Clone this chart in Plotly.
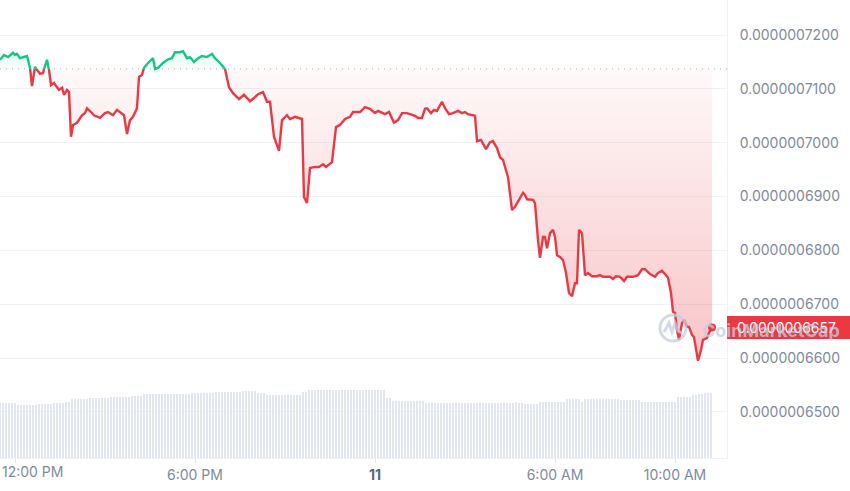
import numpy as np
import pandas as pd
import plotly.graph_objects as go

# ---------------- data ----------------
start = pd.Timestamp("2024-06-10 11:30")

# minutes after start, price in USD
price_minutes = [
    0, 8, 16, 26, 30, 34, 40, 46, 54, 60, 64, 70, 74, 80, 86, 90, 94, 98, 102, 108,
    114, 118, 124, 128, 134, 138, 142, 146, 154, 164, 170, 174, 182, 188, 200, 210, 216, 226, 234, 242,
    248, 254, 260, 266, 274, 278, 284, 288, 296, 306, 310, 316, 326, 336, 344, 350, 360, 366, 374, 380,
    388, 396, 404, 414, 424, 430, 440, 450, 458, 466, 478, 488, 500, 508, 516, 526, 534, 540, 548, 558,
    564, 574, 580, 590, 604, 608, 614, 620, 630, 638, 646, 652, 664, 672, 680, 690, 700, 706, 720, 730,
    740, 750, 756, 770, 778, 788, 796, 804, 814, 830, 836, 844, 850, 854, 862, 868, 874, 884, 890, 898,
    906, 916, 924, 930, 936, 950, 954, 962, 972, 980, 986, 994, 1000, 1006, 1016, 1024, 1030, 1038, 1046, 1050,
    1054, 1066, 1070, 1076, 1080, 1086, 1090, 1094, 1100, 1106, 1110, 1114, 1120, 1126, 1132, 1138, 1144, 1150, 1154, 1158,
    1164, 1170, 1176, 1184, 1194, 1200, 1206, 1220, 1226, 1232, 1240, 1248, 1254, 1266, 1276, 1284, 1290, 1300, 1310, 1316,
    1324, 1330, 1336, 1342, 1346, 1350, 1354, 1358, 1364, 1368, 1374, 1378, 1384, 1388, 1394, 1396, 1402, 1406, 1414, 1418,
    1424,
]
price_usd = [
    7.154e-7, 7.163e-7, 7.159e-7, 7.167e-7, 7.163e-7, 7.165e-7, 7.157e-7, 7.159e-7, 7.161e-7, 7.139e-7,
    7.105e-7, 7.141e-7, 7.135e-7, 7.128e-7, 7.129e-7, 7.144e-7, 7.154e-7, 7.135e-7, 7.107e-7, 7.111e-7,
    7.103e-7, 7.098e-7, 7.102e-7, 7.089e-7, 7.098e-7, 7.094e-7, 7.011e-7, 7.033e-7, 7.037e-7, 7.051e-7,
    7.055e-7, 7.064e-7, 7.057e-7, 7.051e-7, 7.046e-7, 7.055e-7, 7.057e-7, 7.051e-7, 7.061e-7, 7.055e-7,
    7.051e-7, 7.016e-7, 7.042e-7, 7.048e-7, 7.064e-7, 7.122e-7, 7.126e-7, 7.139e-7, 7.148e-7, 7.157e-7,
    7.137e-7, 7.139e-7, 7.148e-7, 7.155e-7, 7.157e-7, 7.168e-7, 7.168e-7, 7.170e-7, 7.157e-7, 7.159e-7,
    7.150e-7, 7.157e-7, 7.161e-7, 7.159e-7, 7.165e-7, 7.157e-7, 7.148e-7, 7.137e-7, 7.103e-7, 7.092e-7,
    7.081e-7, 7.089e-7, 7.077e-7, 7.083e-7, 7.090e-7, 7.094e-7, 7.076e-7, 7.076e-7, 7.011e-7, 6.985e-7,
    7.042e-7, 7.051e-7, 7.044e-7, 7.048e-7, 7.044e-7, 6.899e-7, 6.888e-7, 6.953e-7, 6.955e-7, 6.955e-7,
    6.960e-7, 6.955e-7, 6.964e-7, 7.029e-7, 7.033e-7, 7.044e-7, 7.048e-7, 7.057e-7, 7.057e-7, 7.066e-7,
    7.063e-7, 7.055e-7, 7.059e-7, 7.053e-7, 7.057e-7, 7.037e-7, 7.042e-7, 7.055e-7, 7.055e-7, 7.050e-7,
    7.046e-7, 7.046e-7, 7.063e-7, 7.064e-7, 7.055e-7, 7.061e-7, 7.059e-7, 7.076e-7, 7.064e-7, 7.053e-7,
    7.055e-7, 7.059e-7, 7.055e-7, 7.057e-7, 7.053e-7, 7.050e-7, 7.003e-7, 7.005e-7, 6.988e-7, 7.001e-7,
    7.003e-7, 6.990e-7, 6.973e-7, 6.968e-7, 6.936e-7, 6.875e-7, 6.881e-7, 6.894e-7, 6.907e-7, 6.903e-7,
    6.895e-7, 6.894e-7, 6.888e-7, 6.819e-7, 6.786e-7, 6.825e-7, 6.825e-7, 6.804e-7, 6.832e-7, 6.838e-7,
    6.825e-7, 6.791e-7, 6.788e-7, 6.782e-7, 6.758e-7, 6.721e-7, 6.715e-7, 6.739e-7, 6.739e-7, 6.838e-7,
    6.832e-7, 6.754e-7, 6.758e-7, 6.752e-7, 6.752e-7, 6.754e-7, 6.751e-7, 6.751e-7, 6.747e-7, 6.752e-7,
    6.751e-7, 6.743e-7, 6.751e-7, 6.751e-7, 6.754e-7, 6.765e-7, 6.765e-7, 6.756e-7, 6.751e-7, 6.758e-7,
    6.762e-7, 6.756e-7, 6.749e-7, 6.721e-7, 6.686e-7, 6.684e-7, 6.652e-7, 6.634e-7, 6.665e-7, 6.671e-7,
    6.658e-7, 6.658e-7, 6.643e-7, 6.639e-7, 6.609e-7, 6.595e-7, 6.615e-7, 6.634e-7, 6.637e-7, 6.647e-7,
    6.657e-7,
]

# 24h volume (arbitrary millions), one bar every 6 minutes
volume_step_min = 6
volume_musd = [
    5.5, 5.5, 5.5, 5.5, 5.5, 5.5,
    5.3, 5.3, 5.3, 5.3, 5.3, 5.3, 5.3,
    5.4, 5.4, 5.4, 5.45, 5.45, 5.5, 5.5, 5.55, 5.55, 5.6, 5.6,
    5.9, 5.9, 5.9, 5.95, 5.95, 5.95, 6.0, 6.0, 6.0, 6.0, 6.05, 6.05,
    6.05, 6.1, 6.1, 6.1, 6.1, 6.15, 6.15, 6.15, 6.2, 6.2, 6.2, 6.2,
    6.4, 6.4, 6.4, 6.4, 6.4, 6.4, 6.4, 6.4,
    6.45, 6.45, 6.45, 6.45, 6.45, 6.45, 6.45, 6.45,
    6.5, 6.5, 6.5, 6.5, 6.5, 6.5, 6.5, 6.5,
    6.6, 6.6, 6.6, 6.6, 6.6, 6.6, 6.6, 6.6, 6.6,
    6.7, 6.7, 6.7, 6.7, 6.7,
    6.5, 6.5, 6.5,
    6.3, 6.3, 6.3, 6.3, 6.3, 6.3, 6.3, 6.3, 6.3, 6.3, 6.3, 6.3,
    6.6, 6.6,
    6.8, 6.8, 6.8, 6.8, 6.8, 6.8, 6.8, 6.8, 6.8, 6.8, 6.8, 6.8, 6.8,
    6.8, 6.8, 6.8, 6.8, 6.8, 6.8, 6.8, 6.8, 6.8, 6.8, 6.8, 6.8, 6.8,
    6.0, 6.0,
    5.75, 5.75, 5.75, 5.75, 5.75, 5.75, 5.75, 5.75, 5.75, 5.75, 5.75,
    5.5, 5.5, 5.5, 5.5, 5.5, 5.5, 5.5, 5.5, 5.5, 5.5, 5.5,
    5.5, 5.5, 5.5, 5.5, 5.5, 5.5, 5.5, 5.5, 5.55, 5.55, 5.5,
    5.5, 5.5, 5.5, 5.5, 5.5, 5.5, 5.55, 5.55, 5.6, 5.55, 5.5,
    5.4, 5.4, 5.4, 5.4, 5.4,
    5.6, 5.6, 5.6, 5.6, 5.6, 5.6, 5.6, 5.6, 5.6,
    5.9, 5.9, 5.9, 5.9, 5.9,
    5.6,
    5.9, 5.9, 5.9, 5.9, 5.9, 5.9, 5.9, 5.9, 5.9, 5.9, 5.9, 5.9,
    5.8, 5.8, 5.8, 5.8, 5.8, 5.8, 5.8,
    5.6, 5.6, 5.6, 5.6, 5.6, 5.6, 5.6, 5.6, 5.6, 5.6, 5.6, 5.6,
    6.1, 6.1, 6.1, 6.1, 6.1,
    6.3, 6.35, 6.4, 6.45, 6.5, 6.5, 6.55,
]

open_price = 7.137e-7            # dotted reference line
y_tick_vals = [6.5e-7, 6.6e-7, 6.7e-7, 6.8e-7, 6.9e-7, 7.0e-7, 7.1e-7, 7.2e-7]
x_tick_minutes = [30, 390, 750, 1110, 1350]
x_tick_text = ["", "6:00 PM", '<span style="color:#58667e"><b>11</b></span>', "6:00 AM", "10:00 AM"]
first_tick_label = "12:00 PM"
x_span_minutes = 1454
y_range = [6.4145e-7, 7.265e-7]

GREEN = "#16c784"
RED = "#ea3943"
FONT = "Inter"
TICK_COLOR = "#808a9d"

# ---------------- split at the open line ----------------
t = np.array(price_minutes, dtype=float)
p = np.array(price_usd, dtype=float)
xs, ys = [t[0]], [p[0]]
for i in range(1, len(t)):
    a, b = p[i - 1] - open_price, p[i] - open_price
    if a * b < 0:
        f = a / (a - b)
        xs.append(t[i - 1] + f * (t[i] - t[i - 1]))
        ys.append(open_price)
    xs.append(t[i])
    ys.append(p[i])
xs = np.array(xs)
ys = np.array(ys)
times = start + pd.to_timedelta(xs, unit="min")

red_line = [v if v <= open_price + 1e-15 else None for v in ys]
green_line = [v if v >= open_price - 1e-15 else None for v in ys]
base_arr = np.full(len(ys), open_price)

vol_times = start + pd.to_timedelta(np.arange(len(volume_musd)) * volume_step_min, unit="min")

fig = go.Figure()

# volume bars
fig.add_trace(go.Bar(
    x=vol_times, y=volume_musd, yaxis="y2",
    marker=dict(color="#e1e6ef", line=dict(width=0)),
    width=4 * 60 * 1000, hoverinfo="skip",
))

# red fill
fig.add_trace(go.Scatter(x=times, y=base_arr, mode="lines", line=dict(width=0), hoverinfo="skip"))
fig.add_trace(go.Scatter(
    x=times, y=np.minimum(ys, open_price), mode="lines", line=dict(width=0),
    fill="tonexty", hoverinfo="skip",
    fillgradient=dict(type="vertical", start=float(p.min()), stop=open_price,
                      colorscale=[[0, "rgba(234,57,67,0.30)"], [1, "rgba(234,57,67,0.03)"]]),
))
# green fill
fig.add_trace(go.Scatter(x=times, y=base_arr, mode="lines", line=dict(width=0), hoverinfo="skip"))
fig.add_trace(go.Scatter(
    x=times, y=np.maximum(ys, open_price), mode="lines", line=dict(width=0),
    fill="tonexty", hoverinfo="skip",
    fillgradient=dict(type="vertical", start=open_price, stop=float(p.max()),
                      colorscale=[[0, "rgba(22,199,132,0.02)"], [1, "rgba(22,199,132,0.12)"]]),
))

# lines
fig.add_trace(go.Scatter(x=times, y=red_line, mode="lines", line=dict(color=RED, width=2.4), hoverinfo="skip"))
fig.add_trace(go.Scatter(x=times, y=green_line, mode="lines", line=dict(color=GREEN, width=2.4), hoverinfo="skip"))

# last point marker
fig.add_trace(go.Scatter(x=[times[-1]], y=[p[-1]], mode="markers",
                         marker=dict(color=RED, size=8), hoverinfo="skip"))

# dotted open line
fig.add_shape(type="line", xref="paper", x0=0, x1=1, yref="y", y0=open_price, y1=open_price,
              line=dict(color="#a6b0c3", width=1, dash="1px,5px"), layer="below")

# price label box on right axis
px_per_unit = 458 / (y_range[1] - y_range[0])
half_h = 11.5 / px_per_unit
fig.add_shape(type="rect", xref="paper", x0=1, x1=1.25, yref="y",
              y0=p[-1] - half_h, y1=p[-1] + half_h,
              fillcolor=RED, line=dict(width=0), layer="above")
fig.add_annotation(xref="paper", x=1, xanchor="left", xshift=8, yref="y", y=p[-1], yanchor="middle",
                   text=f"{p[-1]:.10f}", showarrow=False,
                   font=dict(family=FONT, size=14, color="white"))

# watermark logo
cx, cy = 673 / 727, 1 - 328 / 458
rx, ry = 13 / 727, 13 / 458
wm_color = "rgba(196,205,222,0.75)"
fig.add_shape(type="circle", xref="paper", yref="paper",
              x0=cx - rx, x1=cx + rx, y0=cy - ry, y1=cy + ry,
              line=dict(color=wm_color, width=3))
pts = [(-9, 4), (-4, -5), (-1, 4), (2, -5), (5, 3), (9, 5)]
path = "M " + " L ".join(f"{cx + dx / 727:.5f},{cy - dy / 458:.5f}" for dx, dy in pts)
fig.add_shape(type="path", xref="paper", yref="paper", path=path,
              line=dict(color=wm_color, width=3))
fig.add_annotation(xref="paper", x=700 / 727, xanchor="left", yref="paper", y=1 - 330 / 458,
                   yanchor="middle", text="CoinMarketCap", showarrow=False,
                   font=dict(family=FONT, size=18, color=wm_color, weight=700))

# first x label (kept inside chart)
fig.add_annotation(xref="paper", x=0, xanchor="left", yref="paper", y=0, yshift=-13, yanchor="middle",
                   text=first_tick_label, showarrow=False,
                   font=dict(family=FONT, size=14, color=TICK_COLOR))

fig.update_layout(
    width=850, height=491,
    margin=dict(l=0, r=123, t=0, b=33),
    paper_bgcolor="white", plot_bgcolor="white",
    showlegend=False, bargap=0,
    xaxis=dict(
        type="date",
        range=[start, start + pd.Timedelta(minutes=x_span_minutes)],
        tickvals=[start + pd.Timedelta(minutes=m) for m in x_tick_minutes],
        ticktext=x_tick_text,
        showgrid=False, zeroline=False,
        ticks="outside", ticklen=4, tickcolor="#e3e7ee",
        showline=True, linecolor="#eff2f5", linewidth=1,
        tickfont=dict(family=FONT, size=14, color=TICK_COLOR),
        fixedrange=True,
    ),
    yaxis=dict(
        side="right", range=y_range,
        tickvals=y_tick_vals, tickformat=".10f",
        showgrid=True, gridcolor="#f0f2f5", gridwidth=1, zeroline=False,
        showline=True, linecolor="#eff2f5", linewidth=1,
        ticks="outside", ticklen=9, tickcolor="rgba(0,0,0,0)",
        tickfont=dict(family=FONT, size=14, color=TICK_COLOR),
    ),
    yaxis2=dict(overlaying="y", range=[0, 45.8], visible=False),
)

fig.write_html(
    "out.html",
    config={"displayModeBar": False},
    post_script="document.body.style.margin='0';document.body.style.padding='0';",
)
